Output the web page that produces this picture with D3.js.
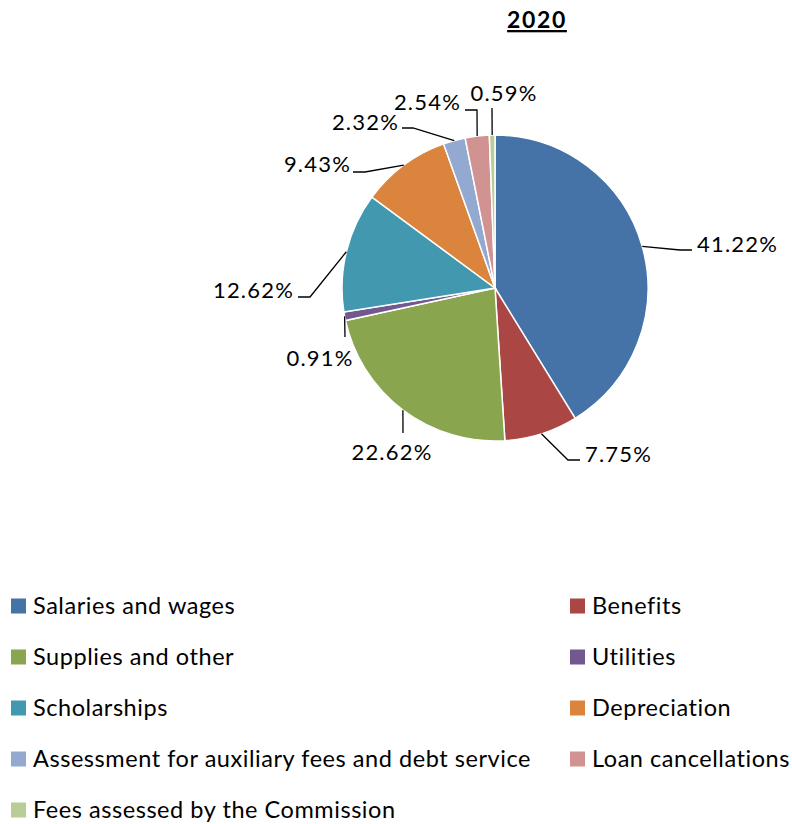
<!DOCTYPE html>
<html>
<head>
<meta charset="utf-8">
<script src="https://cdn.jsdelivr.net/npm/d3@7"></script>
<style>
	body { margin: 0; background: #fff; }
	svg text { font-family: Lato, "Open Sans", sans-serif; fill: #000; letter-spacing: 1.2px; }
</style>
</head>
<body>
<div id="chart"></div>
<script>
var title = "2020";
var categories = ["Salaries and wages", "Benefits", "Supplies and other", "Utilities",
	"Scholarships", "Depreciation", "Assessment for auxiliary fees and debt service",
	"Loan cancellations", "Fees assessed by the Commission"];
var values = [41.22, 7.75, 22.62, 0.91, 12.62, 9.43, 2.32, 2.54, 0.59];
var colors = ["#4572A7", "#AA4643", "#89A54E", "#71588F", "#4198AF", "#DB843D",
	"#93A9CF", "#D19392", "#B9CD96"];

// label placement (Excel style hand-tuned leaders): elbow points + text anchor
var labelLayout = [
	{pts: [[680, 250], [692, 250]], x: 697, y: 244, anchor: "start"},
	{pts: [[568, 460], [580, 460]], x: 585, y: 454, anchor: "start"},
	{pts: [[403, 433]], x: 392, y: 452, anchor: "middle"},
	{pts: [[345, 337]], x: 320, y: 358, anchor: "middle"},
	{pts: [[310, 297], [298, 297]], x: 294, y: 290, anchor: "end"},
	{pts: [[365, 172], [353, 172]], x: 351, y: 164, anchor: "end"},
	{pts: [[413, 128], [402, 128]], x: 399, y: 122, anchor: "end"},
	{pts: [[477, 110], [465, 110]], x: 461, y: 102, anchor: "end"},
	{pts: [[492, 108]], x: 504, y: 93, anchor: "middle"}
];

var width = 792,
	height = 824,
	cx = 495,
	cy = 288,
	radius = 153;

var svg = d3.select("#chart")
	.append("svg")
	.attr("width", width)
	.attr("height", height);

// title
svg.append("text")
	.attr("x", 537)
	.attr("y", 28)
	.attr("text-anchor", "middle")
	.style("font-size", "23px")
	.style("font-weight", "bold")
	.style("letter-spacing", "1.6px")
	.style("text-decoration", "underline")
	.text(title);

var data = categories.map(function(c, i) {
	return {name: c, value: values[i], color: colors[i], layout: labelLayout[i]};
});

var pie = d3.pie()
	.sort(null)
	.value(function(d) { return d.value; });

var arc = d3.arc()
	.innerRadius(0)
	.outerRadius(radius);

var arcs = pie(data);

var g = svg.append("g")
	.attr("transform", "translate(" + cx + "," + cy + ")");

g.selectAll("path.slice")
	.data(arcs)
	.enter()
	.append("path")
	.attr("class", "slice")
	.attr("d", arc)
	.attr("fill", function(d) { return d.data.color; })
	.attr("stroke", "#fff")
	.attr("stroke-width", 1.5);

// leader lines
svg.selectAll("path.leader")
	.data(arcs)
	.enter()
	.append("path")
	.attr("class", "leader")
	.attr("fill", "none")
	.attr("stroke", "#000")
	.attr("stroke-width", 1.3)
	.attr("d", function(d) {
		var a = (d.startAngle + d.endAngle) / 2;
		var p0 = [cx + radius * Math.sin(a), cy - radius * Math.cos(a)];
		return d3.line()([p0].concat(d.data.layout.pts));
	});

svg.selectAll("text.lbl")
	.data(arcs)
	.enter()
	.append("text")
	.attr("class", "lbl")
	.attr("x", function(d) { return d.data.layout.x; })
	.attr("y", function(d) { return d.data.layout.y; })
	.attr("dy", "0.36em")
	.attr("text-anchor", function(d) { return d.data.layout.anchor; })
	.style("font-size", "22px")
	.text(function(d) { return d.data.value.toFixed(2) + "%"; });

// legend, two columns
var legX = d3.scalePoint().domain([0, 1]).range([11, 570]);
var legY = d3.scaleLinear().domain([0, 4]).range([606, 810]);

var leg = svg.selectAll("g.leg")
	.data(data)
	.enter()
	.append("g")
	.attr("class", "leg")
	.attr("transform", function(d, i) {
		return "translate(" + legX(i % 2) + "," + legY(Math.floor(i / 2)) + ")";
	});

leg.append("rect")
	.attr("x", 0)
	.attr("y", -7.5)
	.attr("width", 15)
	.attr("height", 15)
	.attr("fill", function(d) { return d.color; });

leg.append("text")
	.attr("x", 22)
	.attr("y", 0)
	.attr("dy", "0.36em")
	.style("font-size", "23.5px")
	.style("letter-spacing", "0.55px")
	.text(function(d) { return d.name; });
</script>
</body>
</html>
